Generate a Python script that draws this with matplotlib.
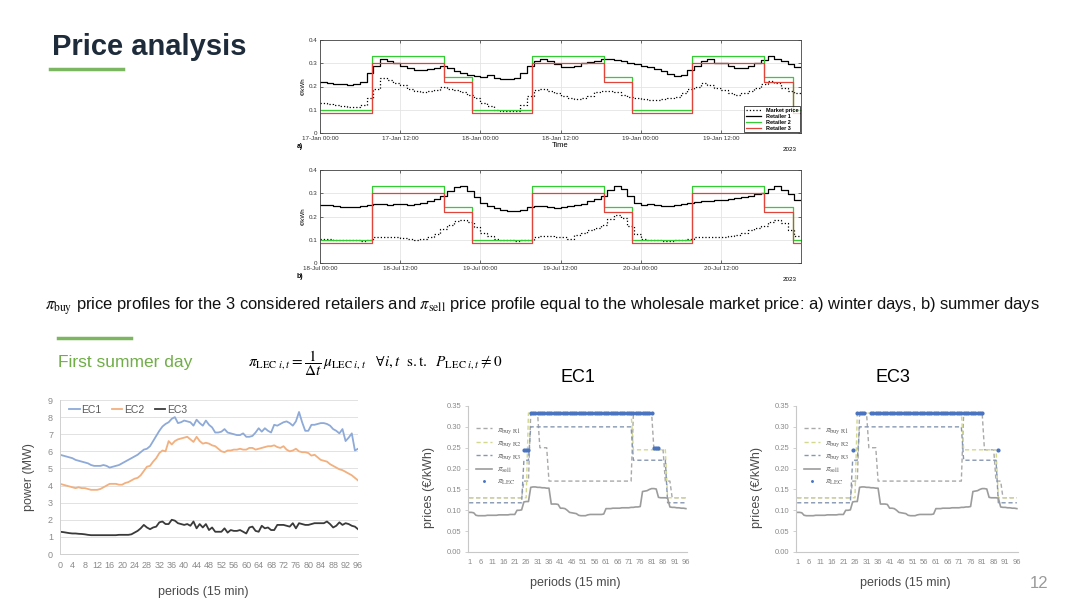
import numpy as np
import matplotlib.pyplot as plt
from matplotlib.lines import Line2D

W, H = 1080, 608

# ---------------- top charts (hourly readings over 3 days) ----------------
winter_ticks = ["17-Jan 00:00", "17-Jan 12:00", "18-Jan 00:00", "18-Jan 12:00", "19-Jan 00:00", "19-Jan 12:00"]
summer_ticks = ["18-Jul 00:00", "18-Jul 12:00", "19-Jul 00:00", "19-Jul 12:00", "20-Jul 00:00", "20-Jul 12:00"]

winter_market = [0.13, 0.125, 0.12, 0.115, 0.11, 0.11, 0.12, 0.15, 0.19, 0.235, 0.23, 0.215,
                 0.205, 0.19, 0.18, 0.175, 0.18, 0.185, 0.20, 0.19, 0.185, 0.175, 0.165, 0.15,
                 0.13, 0.115, 0.10, 0.095, 0.095, 0.095, 0.12, 0.16, 0.185, 0.19, 0.18, 0.17,
                 0.16, 0.15, 0.145, 0.15, 0.16, 0.175, 0.18, 0.18, 0.175, 0.165, 0.155, 0.15,
                 0.145, 0.14, 0.14, 0.145, 0.15, 0.155, 0.17, 0.19, 0.20, 0.215, 0.205, 0.195,
                 0.185, 0.17, 0.165, 0.17, 0.18, 0.195, 0.21, 0.225, 0.215, 0.195, 0.18, 0.17]
winter_r1 = [0.22, 0.215, 0.21, 0.21, 0.205, 0.21, 0.22, 0.26, 0.29, 0.32, 0.31, 0.30,
             0.29, 0.28, 0.27, 0.27, 0.275, 0.28, 0.29, 0.28, 0.265, 0.26, 0.25, 0.245,
             0.24, 0.25, 0.235, 0.232, 0.232, 0.235, 0.26, 0.29, 0.31, 0.32, 0.31, 0.295,
             0.285, 0.285, 0.29, 0.30, 0.305, 0.31, 0.32, 0.32, 0.315, 0.31, 0.30, 0.295,
             0.29, 0.285, 0.275, 0.265, 0.255, 0.245, 0.25, 0.27, 0.29, 0.31, 0.32, 0.30,
             0.30, 0.29, 0.28, 0.28, 0.29, 0.30, 0.315, 0.33, 0.32, 0.31, 0.295, 0.285]
summer_market = [0.105, 0.102, 0.10, 0.10, 0.10, 0.097, 0.095, 0.10, 0.11, 0.11, 0.11, 0.11,
                 0.108, 0.105, 0.10, 0.105, 0.11, 0.125, 0.145, 0.165, 0.18, 0.185, 0.175, 0.155,
                 0.13, 0.115, 0.105, 0.10, 0.097, 0.095, 0.097, 0.10, 0.11, 0.115, 0.115, 0.11,
                 0.11, 0.105, 0.12, 0.13, 0.14, 0.15, 0.165, 0.19, 0.205, 0.195, 0.16, 0.125,
                 0.105, 0.10, 0.097, 0.095, 0.095, 0.10, 0.10, 0.105, 0.11, 0.11, 0.11, 0.11,
                 0.11, 0.115, 0.12, 0.13, 0.14, 0.15, 0.16, 0.175, 0.185, 0.17, 0.14, 0.115]
summer_r1 = [0.25, 0.248, 0.245, 0.242, 0.24, 0.24, 0.245, 0.25, 0.252, 0.255, 0.25, 0.255,
             0.252, 0.25, 0.255, 0.26, 0.265, 0.275, 0.29, 0.31, 0.325, 0.33, 0.31, 0.285,
             0.26, 0.245, 0.235, 0.23, 0.225, 0.225, 0.23, 0.24, 0.245, 0.245, 0.24, 0.235,
             0.24, 0.245, 0.25, 0.255, 0.265, 0.275, 0.29, 0.315, 0.33, 0.32, 0.29, 0.26,
             0.25, 0.255, 0.25, 0.245, 0.245, 0.25, 0.255, 0.26, 0.262, 0.265, 0.265, 0.27,
             0.272, 0.275, 0.28, 0.285, 0.29, 0.295, 0.30, 0.32, 0.33, 0.315, 0.295, 0.27]

# fixed tariffs: level changes at these hours every day
switch_hours = [0, 7.75, 18.5, 22.75]
r2_levels = [0.10, 0.33, 0.24, 0.10]
r3_levels = [0.085, 0.30, 0.22, 0.085]

# ---------------- first summer day: power per 15-min period ----------------
ec1_power = [5.8, 5.75, 5.7, 5.65, 5.6, 5.5, 5.45, 5.4, 5.35, 5.3,
             5.2, 5.15, 5.15, 5.15, 5.2, 5.15, 5.05, 5.1, 5.15, 5.2,
             5.3, 5.4, 5.5, 5.6, 5.7, 5.8, 5.95, 6.1, 6.15, 6.3,
             6.6, 6.9, 7.2, 7.45, 7.6, 7.7, 7.9, 8.0, 7.65, 7.7,
             7.8, 7.75, 7.7, 7.5, 7.85, 7.65, 7.5, 7.8, 7.55, 7.4,
             7.1, 7.1, 7.15, 7.3, 7.1, 7.05, 7.0, 6.95, 6.95, 7.05,
             6.85, 6.85, 6.9, 7.1, 7.35, 7.15, 7.35, 7.2, 7.1, 7.55,
             7.5, 7.6, 7.7, 7.75, 7.65, 7.5, 7.75, 8.3, 7.7, 7.2,
             7.2, 7.55, 7.55, 7.6, 7.65, 7.65, 7.6, 7.5, 7.3, 7.2,
             7.05, 7.3, 6.6, 6.8, 7.05, 6.05, 6.15]
ec2_power = [4.1, 4.05, 4.0, 3.95, 3.9, 3.85, 3.9, 3.85, 3.85, 3.8,
             3.75, 3.75, 3.75, 3.8, 3.9, 4.0, 4.1, 4.1, 4.1, 4.05,
             4.05, 4.15, 4.2, 4.3, 4.4, 4.45, 4.6, 4.85, 5.1, 5.15,
             5.4, 5.6, 5.9, 6.05, 6.0, 6.6, 6.4, 6.6, 6.7, 6.75,
             6.8, 6.85, 6.7, 6.55, 6.85, 6.6, 6.45, 6.5, 6.45, 6.35,
             6.3, 6.15, 6.0, 5.95, 6.05, 6.05, 6.1, 6.1, 6.15, 6.1,
             6.1, 6.2, 6.2, 6.1, 6.15, 6.2, 6.25, 6.3, 6.3, 6.35,
             6.25, 6.2, 6.3, 6.1, 6.0, 6.05, 6.15, 6.0, 5.95, 5.95,
             5.9, 5.75, 5.8, 5.65, 5.5, 5.45, 5.4, 5.25, 5.15, 5.05,
             4.95, 4.9, 4.8, 4.7, 4.6, 4.45, 4.3]
ec3_power = [1.3, 1.28, 1.25, 1.22, 1.2, 1.2, 1.18, 1.17, 1.15, 1.12,
             1.1, 1.1, 1.1, 1.1, 1.1, 1.1, 1.1, 1.1, 1.1, 1.12,
             1.12, 1.12, 1.12, 1.15, 1.25, 1.35, 1.5, 1.7, 1.55, 1.45,
             1.55, 1.6, 1.85, 1.9, 1.75, 1.75, 2.0, 1.95, 1.8, 1.75,
             1.7, 1.75, 1.65, 1.9, 1.5, 1.75, 1.55, 1.75, 1.4, 1.55,
             1.3, 1.3, 1.3, 1.5, 1.25, 1.4, 1.35, 1.35, 1.4, 1.3,
             1.2, 1.55, 1.6, 1.35, 1.3, 1.65, 1.5, 1.55, 1.4, 1.4,
             1.7, 1.7, 1.7, 1.65, 1.6, 1.8, 1.5, 1.8, 1.75, 1.7,
             1.7, 1.75, 1.8, 1.8, 1.8, 1.8, 1.9, 1.75, 1.55, 1.65,
             1.85, 1.7, 1.8, 1.75, 1.65, 1.6, 1.45]

# ---------------- EC price charts (periods 1..96) ----------------
sell_price = [0.095, 0.095, 0.094,
              0.088, 0.087, 0.087, 0.087, 0.087, 0.088, 0.088, 0.088, 0.088, 0.088,
              0.089, 0.089, 0.089, 0.089, 0.089, 0.090, 0.090, 0.090,
              0.100, 0.100, 0.101,
              0.120, 0.121, 0.121,
              0.155, 0.156, 0.156, 0.155, 0.155, 0.154, 0.154, 0.153, 0.153,
              0.115, 0.115, 0.115, 0.114,
              0.105, 0.105, 0.104, 0.100,
              0.095, 0.094, 0.093, 0.092,
              0.088, 0.087, 0.087, 0.087,
              0.089, 0.090, 0.090, 0.090, 0.090, 0.090, 0.090, 0.091,
              0.104, 0.104, 0.104, 0.105, 0.105, 0.105, 0.105, 0.106, 0.106, 0.106, 0.106, 0.107,
              0.107, 0.108, 0.108, 0.109,
              0.145, 0.146, 0.147,
              0.150, 0.152, 0.152, 0.151,
              0.131, 0.130, 0.130, 0.130, 0.129,
              0.108, 0.107, 0.107, 0.106, 0.106, 0.105, 0.105, 0.104]

# buy tariffs: first period of each level and the level
r1_start = [1, 25, 28, 32, 36, 73, 82, 87, 90]
r1_level = [0.13, 0.17, 0.333, 0.25, 0.17, 0.333, 0.245, 0.17, 0.13]
r2_start = [1, 27, 73, 88]
r2_level = [0.13, 0.333, 0.245, 0.13]
r3_start = [1, 25, 28, 73, 88]
r3_level = [0.118, 0.22, 0.30, 0.22, 0.118]

# LEC price: (first period, last period, value)
ec1_lec = [(25, 27, 0.245), (28, 81, 0.333), (82, 84, 0.250)]
ec3_lec = [(25, 25, 0.245), (27, 30, 0.333), (33, 81, 0.333), (88, 88, 0.245)]

plt.rcParams['font.family'] = ['Liberation Sans', 'DejaVu Sans']
plt.rcParams['mathtext.fontset'] = 'stix'

fig = plt.figure(figsize=(10.8, 6.08), dpi=100)
fig.patch.set_facecolor('white')


def box(l, t, r, b):
    return [l / W, 1 - b / H, (r - l) / W, (b - t) / H]


def hline(x1, x2, y, color, lw):
    fig.add_artist(Line2D([x1 / W, x2 / W], [1 - y / H, 1 - y / H], color=color, lw=lw,
                          transform=fig.transFigure))


# slide texts
fig.text(52 / W, 1 - 47 / H, "Price analysis", fontsize=21, fontweight='bold', color='#1d2b3a',
         va='center', ha='left')
hline(50, 123, 69, '#7bb661', 2.5)
fig.text(45 / W, 1 - 306 / H,
         r"$\pi_{\mathrm{buy}}$ price profiles for the 3 considered retailers and $\pi_{\mathrm{sell}}$ "
         r"price profile equal to the wholesale market price: a) winter days, b) summer days",
         fontsize=11.9, va='center', ha='left', color='#111111')
hline(58, 131, 338, '#7bb661', 2.5)
fig.text(58 / W, 1 - 363 / H, "First summer day", fontsize=12.5, color='#70ad47', va='center')
fig.text(248 / W, 1 - 363 / H,
         r"$\pi_{\mathrm{LEC}\ i,t} = \dfrac{1}{\Delta t}\,\mu_{\mathrm{LEC}\ i,t}\quad \forall i,t\ \ \mathrm{s.t.}\ \ P_{\mathrm{LEC}\ i,t} \neq 0$",
         fontsize=11, va='center', ha='left')
fig.text(578 / W, 1 - 378 / H, "EC1", fontsize=13, ha='center', va='center')
fig.text(893 / W, 1 - 378 / H, "EC3", fontsize=13, ha='center', va='center')
fig.text(1048 / W, 1 - 583 / H, "12", fontsize=12, ha='right', va='center', color='#9a9a9a')


def tariff_steps(levels):
    xs = [d * 24 + s for d in range(3) for s in switch_hours] + [72]
    ys = levels * 3 + [levels[-1]]
    return xs, ys


def top_chart(rect, market, r1, ticks, tag, show_legend, show_time):
    ax = fig.add_axes(box(*rect))
    h = np.arange(len(market) + 1)
    ax.step(h, market + [market[-1]], where='post', color='k', ls=':', lw=0.9, label='Market price')
    ax.step(h, r1 + [r1[-1]], where='post', color='k', lw=0.9, label='Retailer 1')
    xs, ys = tariff_steps(r2_levels)
    ax.step(xs, ys, where='post', color='#33cc33', lw=0.9, label='Retailer 2')
    xs, ys = tariff_steps(r3_levels)
    ax.step(xs, ys, where='post', color='#e0453c', lw=0.9, label='Retailer 3')
    ax.set_xlim(0, 72)
    ax.set_ylim(0, 0.4)
    ax.set_xticks(range(0, 72, 12))
    ax.set_xticklabels(ticks)
    ax.set_yticks([0, 0.1, 0.2, 0.3, 0.4])
    ax.set_yticklabels(['0', '0.1', '0.2', '0.3', '0.4'])
    ax.grid(color='#e4e4e4', lw=0.6)
    ax.set_axisbelow(True)
    ax.tick_params(direction='in', top=True, right=True, length=2, width=0.5, labelsize=4.5,
                   pad=2, colors='#333333')
    for s in ax.spines.values():
        s.set_linewidth(0.6)
        s.set_color('#444444')
    ax.set_ylabel('€/kWh', fontsize=4.5, labelpad=2)
    ax.text(-0.048, -0.15, tag, transform=ax.transAxes, fontsize=5, fontweight='bold', va='center')
    ax.text(0.99, -0.18, '2023', transform=ax.transAxes, fontsize=4.5, ha='right', va='center')
    if show_time:
        ax.set_xlabel('Time', fontsize=5.5, labelpad=1)
    if show_legend:
        leg = ax.legend(loc='lower right', fontsize=4, frameon=True, fancybox=False,
                        edgecolor='k', borderpad=0.3, handlelength=2.8, labelspacing=0.15,
                        borderaxespad=0.15, prop={'weight': 'bold', 'size': 4})
        leg.get_frame().set_linewidth(0.6)
    return ax


top_chart((320, 40, 801, 133), winter_market, winter_r1, winter_ticks, 'a)', True, True)
top_chart((320, 170, 801, 263), summer_market, summer_r1, summer_ticks, 'b)', False, False)

# ---------------- power chart ----------------
axp = fig.add_axes(box(60, 400, 358, 554))
periods = np.arange(len(ec1_power))
axp.plot(periods, ec1_power, color='#8eaad8', lw=1.3, label='EC1')
axp.plot(periods, ec2_power, color='#f2b07f', lw=1.3, label='EC2')
axp.plot(periods, ec3_power, color='#3a3a3a', lw=1.3, label='EC3')
axp.set_xlim(0, 96)
axp.set_ylim(0, 9)
axp.set_xticks(range(0, 97, 4))
axp.set_yticks(range(0, 10))
axp.grid(axis='y', color='#e2e2e2', lw=0.7)
axp.set_axisbelow(True)
axp.tick_params(length=0, labelsize=6.5, colors='#8a8a8a', pad=5)
for s in ['top', 'right']:
    axp.spines[s].set_visible(False)
for s in ['left', 'bottom']:
    axp.spines[s].set_color('#d0d0d0')
    axp.spines[s].set_linewidth(0.7)
axp.set_ylabel('power (MW)', fontsize=9, color='#4a4a4a')
axp.yaxis.set_label_coords(-0.084, 0.5)
axp.set_xlabel('periods (15 min)', fontsize=9, color='#4a4a4a')
axp.xaxis.set_label_coords(0.48, -0.21)
axp.legend(loc='upper left', ncol=3, frameon=False, fontsize=7.5, handlelength=1.0,
           handletextpad=0.15, columnspacing=1.0, bbox_to_anchor=(0.0, 1.03),
           labelcolor='#595959')


def expand(starts, levels):
    out = np.empty(96)
    for i, s in enumerate(starts):
        e = starts[i + 1] if i + 1 < len(starts) else 97
        out[s - 1:e - 1] = levels[i]
    return out


def ec_chart(rect, lec_segments):
    ax = fig.add_axes(box(*rect))
    p = np.arange(1, 97)
    l1, = ax.plot(p, expand(r1_start, r1_level), color='#a9a9a9', lw=1.0, ls=(0, (3, 2)))
    l2, = ax.plot(p, expand(r2_start, r2_level), color='#d2d88e', lw=1.0, ls=(0, (3, 2)))
    l3, = ax.plot(p, expand(r3_start, r3_level), color='#8797b2', lw=1.0, ls=(0, (3, 2)))
    l4, = ax.plot(p, sell_price, color='#9c9c9c', lw=1.2)
    lp = np.concatenate([np.arange(a, b + 1) for a, b, v in lec_segments])
    lv = np.concatenate([np.full(b - a + 1, v) for a, b, v in lec_segments])
    l5, = ax.plot(lp, lv, ls='none', marker='o', ms=3.0, mew=0, color='#4a74c0')
    ax.set_xlim(0.5, 96.5)
    ax.set_ylim(0, 0.35)
    ax.set_xticks(range(1, 97, 5))
    ax.set_yticks(np.arange(0, 0.351, 0.05))
    ax.set_yticklabels([f"{v:.2f}" for v in np.arange(0, 0.351, 0.05)])
    ax.tick_params(axis='x', length=0, labelsize=5.5, colors='#8a8a8a', pad=5)
    ax.tick_params(axis='y', length=2, width=0.6, labelsize=5.5, colors='#8a8a8a', pad=3)
    ax.tick_params(axis='y', color='#c8c8c8')
    for s in ['top', 'right']:
        ax.spines[s].set_visible(False)
    for s in ['left', 'bottom']:
        ax.spines[s].set_color('#c8c8c8')
        ax.spines[s].set_linewidth(0.8)
    ax.set_ylabel('prices (€/kWh)', fontsize=9, color='#4a4a4a')
    ax.yaxis.set_label_coords(-0.15, 0.445)
    ax.set_xlabel('periods (15 min)', fontsize=9, color='#4a4a4a')
    ax.xaxis.set_label_coords(0.49, -0.17)
    ax.legend([l1, l2, l3, l4, l5],
              [r"$\pi_{\mathrm{buy\ R1}}$", r"$\pi_{\mathrm{buy\ R2}}$", r"$\pi_{\mathrm{buy\ R3}}$",
               r"$\pi_{\mathrm{sell}}$", r"$\pi_{\mathrm{LEC}}$"],
              loc='upper left', bbox_to_anchor=(0.0, 0.93), frameon=False, fontsize=6.5,
              handlelength=1.8, handletextpad=0.5, labelspacing=0.25, labelcolor='#606060',
              markerscale=0.7)
    return ax


ec_chart((468, 406, 687, 552), ec1_lec)
ec_chart((796, 406, 1018, 552), ec3_lec)

fig.savefig('out.png', dpi=100, facecolor='white')
